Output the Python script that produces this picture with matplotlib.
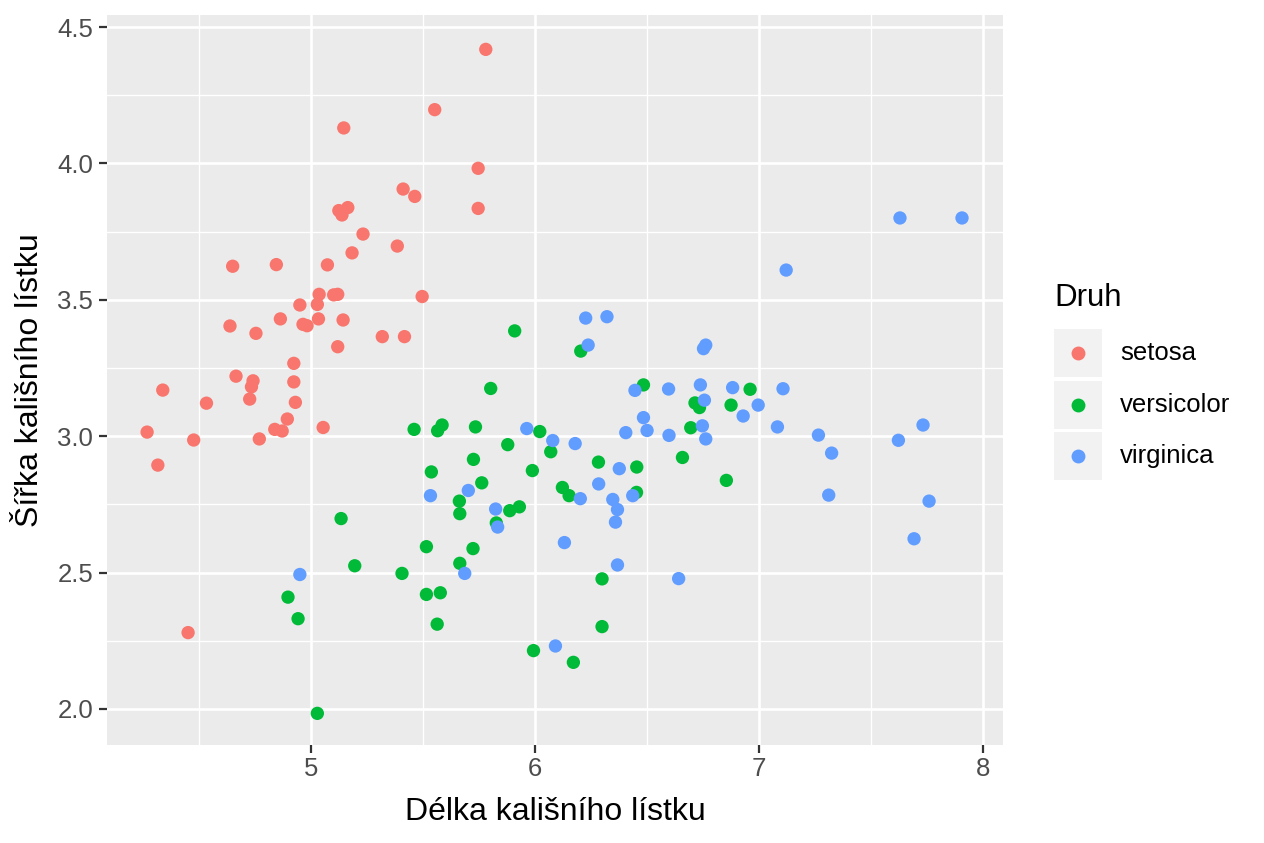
import matplotlib.pyplot as plt
from matplotlib.patches import Rectangle
from matplotlib.lines import Line2D
from matplotlib.ticker import MultipleLocator

plt.rcParams['font.family'] = ['Liberation Sans', 'DejaVu Sans']

setosa_x = [5.78, 5.552, 5.146, 5.746, 5.411, 5.463, 5.746, 5.124, 5.164, 5.138,
            5.232, 5.385, 5.183, 4.650, 4.845, 5.073, 5.036, 5.101, 5.119, 5.496,
            4.950, 5.028, 4.638, 4.863, 4.754, 4.964, 4.982, 5.033, 5.143, 5.318,
            5.417, 5.119, 4.923, 4.665, 4.741, 4.734, 4.923, 4.338, 4.533, 4.268,
            4.316, 4.476, 4.726, 4.930, 4.894, 4.838, 4.871, 4.769, 5.054, 4.451]
setosa_y = [4.418, 4.197, 4.130, 3.982, 3.906, 3.879, 3.835, 3.827, 3.838, 3.811,
            3.741, 3.697, 3.672, 3.623, 3.629, 3.628, 3.520, 3.518, 3.520, 3.512,
            3.481, 3.483, 3.404, 3.430, 3.377, 3.410, 3.405, 3.430, 3.426, 3.365,
            3.365, 3.328, 3.267, 3.220, 3.203, 3.181, 3.199, 3.169, 3.121, 3.015,
            2.894, 2.986, 3.136, 3.124, 3.063, 3.025, 3.019, 2.990, 3.032, 2.280]

versicolor_x = [5.909, 5.802, 5.460, 5.565, 5.585, 5.734, 5.878, 5.725, 5.537, 5.762,
                5.988, 6.021, 6.070, 5.662, 5.664, 5.887, 5.930, 5.827, 5.134, 5.515,
                5.723, 5.664, 5.195, 5.406, 5.515, 5.577, 4.897, 4.942, 5.563, 5.993,
                5.028, 6.204, 6.484, 6.960, 6.714, 6.734, 6.875, 6.695, 6.283, 6.454,
                6.658, 6.854, 6.122, 6.152, 6.453, 6.299, 6.299, 6.171]
versicolor_y = [3.386, 3.175, 3.025, 3.020, 3.041, 3.034, 2.969, 2.915, 2.869, 2.829,
                2.874, 3.017, 2.943, 2.762, 2.716, 2.727, 2.741, 2.682, 2.698, 2.595,
                2.588, 2.534, 2.525, 2.497, 2.420, 2.426, 2.410, 2.331, 2.311, 2.214,
                1.984, 3.312, 3.188, 3.172, 3.122, 3.105, 3.114, 3.031, 2.905, 2.887,
                2.922, 2.838, 2.812, 2.782, 2.794, 2.477, 2.302, 2.171]

virginica_x = [5.963, 6.079, 5.533, 5.702, 5.824, 5.833, 4.950, 5.686, 6.091, 6.226,
               6.321, 6.237, 6.752, 6.762, 6.446, 6.596, 6.738, 6.882, 7.107, 6.756,
               6.996, 6.484, 6.929, 6.500, 6.405, 6.747, 6.762, 6.598, 7.082, 7.265,
               7.324, 7.732, 7.622, 7.311, 7.759, 7.692, 6.179, 6.376, 6.284, 6.202,
               6.436, 6.347, 6.368, 6.359, 6.131, 6.368, 6.641, 7.629, 7.906, 7.121]
virginica_y = [3.028, 2.984, 2.782, 2.801, 2.733, 2.667, 2.493, 2.497, 2.231, 3.433,
               3.438, 3.334, 3.321, 3.334, 3.168, 3.173, 3.188, 3.178, 3.174, 3.132,
               3.114, 3.068, 3.074, 3.021, 3.013, 3.038, 2.990, 3.003, 3.034, 3.004,
               2.938, 3.041, 2.985, 2.784, 2.762, 2.624, 2.973, 2.881, 2.825, 2.771,
               2.782, 2.768, 2.731, 2.685, 2.610, 2.528, 2.478, 3.800, 3.800, 3.609]

species = ['setosa', 'versicolor', 'virginica']
colors = ['#F8766D', '#00BA38', '#619CFF']
y_ticks = [2.0, 2.5, 3.0, 3.5, 4.0, 4.5]
y_tick_labels = ['2.0', '2.5', '3.0', '3.5', '4.0', '4.5']

fig = plt.figure(figsize=(12.64, 8.43), dpi=100)
ax = fig.add_axes([107 / 1264, 1 - 745 / 843, 896 / 1264, 730 / 843])
ax.set_facecolor('#EBEBEB')

data = [(setosa_x, setosa_y), (versicolor_x, versicolor_y), (virginica_x, virginica_y)]
for (xs, ys), c in zip(data, colors):
    ax.scatter(xs, ys, s=92, color=c, edgecolors='none', zorder=3)

ax.set_xlim(4.089, 8.089)
ax.set_ylim(1.868, 4.544)
ax.xaxis.set_major_locator(MultipleLocator(1))
ax.xaxis.set_minor_locator(MultipleLocator(0.5))
ax.yaxis.set_minor_locator(MultipleLocator(0.25))
ax.set_yticks(y_ticks)
ax.set_yticklabels(y_tick_labels)
ax.grid(which='major', color='white', linewidth=1.9, zorder=1)
ax.grid(which='minor', color='white', linewidth=1.0, zorder=1)
ax.set_axisbelow(True)
for sp in ax.spines.values():
    sp.set_visible(False)
ax.tick_params(which='major', length=5.5, width=1.6, color='#333333',
               labelsize=18.5, labelcolor='#4D4D4D')
ax.tick_params(axis='x', pad=3.5)
ax.tick_params(axis='y', pad=4.5)
ax.tick_params(which='minor', length=0)

ax.set_xlabel('Délka kališního lístku', fontsize=23, color='black', labelpad=11)
ax.set_ylabel('Šířka kališního lístku', fontsize=23, color='black', labelpad=9)

# legend drawn by hand to mimic ggplot keys
fig.text(1054 / 1264, 1 - 298 / 843, 'Druh', fontsize=22.5, va='center', ha='left')
key_tops = [329, 381, 432]
for top, c, name in zip(key_tops, colors, species):
    fig.add_artist(Rectangle((1054 / 1264, 1 - (top + 48) / 843), 48 / 1264, 48 / 843,
                             transform=fig.transFigure, facecolor='#F2F2F2',
                             edgecolor='none'))
    fig.add_artist(Line2D([1078 / 1264], [1 - (top + 24) / 843], marker='o',
                          markersize=10, color=c, markeredgewidth=0,
                          linestyle='none', transform=fig.transFigure))
    fig.text(1120 / 1264, 1 - (top + 24) / 843, name, fontsize=18.5,
             va='center', ha='left')

fig.savefig('out.png', dpi=100)
